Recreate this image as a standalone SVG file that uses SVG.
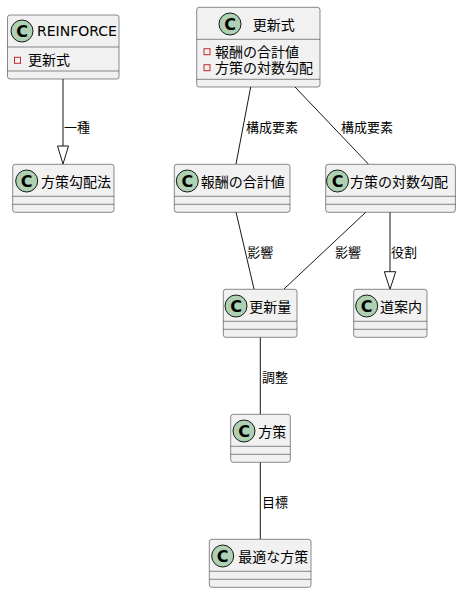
<svg xmlns="http://www.w3.org/2000/svg" width="461" height="593" viewBox="0 0 461 593">
<style>
.box{fill:#F1F1F1;stroke:#181818;stroke-width:0.5}
.sep{stroke:#181818;stroke-width:0.5}
.ci{fill:#ADD1B2;stroke:#181818;stroke-width:1}
.cl{font-family:"DejaVu Sans",sans-serif;font-weight:bold;font-size:16px;text-anchor:middle;fill:#000}
.nm{font-family:"DejaVu Sans","Noto Sans CJK JP",sans-serif;font-size:14px;fill:#000}
.lb{font-family:"DejaVu Sans","Noto Sans CJK JP",sans-serif;font-size:13px;fill:#000}
.ic{fill:none;stroke:#C82930;stroke-width:1}
.edge{stroke:#181818;stroke-width:1;fill:none}
.tri{fill:none;stroke:#181818;stroke-width:1}
</style>
<rect width="461" height="593" fill="#FFFFFF"/>
<g id="edges">
  <line class="edge" x1="63" y1="79" x2="63" y2="146"/>
  <polygon class="tri" points="63,164 57.5,146 68.5,146"/>
  <text class="lb" x="64" y="131.5">一種</text>
  <line class="edge" x1="250.7" y1="87" x2="236" y2="164"/>
  <text class="lb" x="246" y="131.5">構成要素</text>
  <line class="edge" x1="295" y1="87" x2="368.3" y2="164"/>
  <text class="lb" x="341" y="131.5">構成要素</text>
  <line class="edge" x1="236" y1="212" x2="254" y2="289"/>
  <text class="lb" x="247.3" y="256.5">影響</text>
  <line class="edge" x1="366" y1="212" x2="284" y2="289"/>
  <text class="lb" x="335" y="256.5">影響</text>
  <line class="edge" x1="390" y1="212" x2="390" y2="271.7"/>
  <polygon class="tri" points="390,289.3 384.3,271.7 395.7,271.7"/>
  <text class="lb" x="391" y="256.5">役割</text>
  <line class="edge" x1="260.3" y1="337.3" x2="260.3" y2="414.3"/>
  <text class="lb" x="262" y="381.5">調整</text>
  <line class="edge" x1="260.3" y1="462.3" x2="260.3" y2="539.3"/>
  <text class="lb" x="262" y="506.5">目標</text>
</g>
<g id="REINFORCE">
  <rect class="box" x="7.5" y="15" width="111.5" height="64" rx="2.5"/>
  <line class="sep" x1="7.5" y1="47" x2="119" y2="47"/>
  <line class="sep" x1="7.5" y1="71" x2="119" y2="71"/>
  <circle class="ci" cx="22" cy="31" r="11"/>
  <text class="cl" x="22" y="37">C</text>
  <text class="nm" x="37" y="36">REINFORCE</text>
  <rect class="ic" x="14.5" y="57.3" width="6" height="6"/>
  <text class="nm" x="28" y="65">更新式</text>
</g>
<g id="koushinshiki">
  <rect class="box" x="196.7" y="7.3" width="123.3" height="79.7" rx="2.5"/>
  <line class="sep" x1="196.7" y1="39.3" x2="320" y2="39.3"/>
  <line class="sep" x1="196.7" y1="79.3" x2="320" y2="79.3"/>
  <circle class="ci" cx="230" cy="24" r="11"/>
  <text class="cl" x="230" y="30">C</text>
  <text class="nm" x="252.7" y="29.5">更新式</text>
  <rect class="ic" x="204" y="48.7" width="6" height="6"/>
  <text class="nm" x="215" y="56.5">報酬の合計値</text>
  <rect class="ic" x="204" y="64.7" width="6" height="6"/>
  <text class="nm" x="215" y="72.5">方策の対数勾配</text>
</g>
<g id="housakukoubaihou">
  <rect class="box" x="12.7" y="164.3" width="101.3" height="48" rx="2.5"/>
  <line class="sep" x1="12.7" y1="196.3" x2="114" y2="196.3"/>
  <line class="sep" x1="12.7" y1="204.3" x2="114" y2="204.3"/>
  <circle class="ci" cx="26.7" cy="181" r="11"/>
  <text class="cl" x="26.7" y="187">C</text>
  <text class="nm" x="41" y="187">方策勾配法</text>
</g>
<g id="houshuu">
  <rect class="box" x="174.3" y="164.3" width="115.7" height="48" rx="2.5"/>
  <line class="sep" x1="174.3" y1="196.3" x2="290" y2="196.3"/>
  <line class="sep" x1="174.3" y1="204.3" x2="290" y2="204.3"/>
  <circle class="ci" cx="187.3" cy="181" r="11"/>
  <text class="cl" x="187.3" y="187">C</text>
  <text class="nm" x="200.7" y="187">報酬の合計値</text>
</g>
<g id="taisuukoubai">
  <rect class="box" x="325.7" y="164.3" width="129.7" height="48" rx="2.5"/>
  <line class="sep" x1="325.7" y1="196.3" x2="455.4" y2="196.3"/>
  <line class="sep" x1="325.7" y1="204.3" x2="455.4" y2="204.3"/>
  <circle class="ci" cx="337.5" cy="181" r="11"/>
  <text class="cl" x="337.5" y="187">C</text>
  <text class="nm" x="350" y="187">方策の対数勾配</text>
</g>
<g id="koushinryou">
  <rect class="box" x="223.3" y="289.3" width="73.7" height="48" rx="2.5"/>
  <line class="sep" x1="223.3" y1="321.3" x2="297" y2="321.3"/>
  <line class="sep" x1="223.3" y1="329.3" x2="297" y2="329.3"/>
  <circle class="ci" cx="236" cy="306" r="11"/>
  <text class="cl" x="236" y="312">C</text>
  <text class="nm" x="249.3" y="312">更新量</text>
</g>
<g id="michiannai">
  <rect class="box" x="353.7" y="289.3" width="73.3" height="48" rx="2.5"/>
  <line class="sep" x1="353.7" y1="321.3" x2="427" y2="321.3"/>
  <line class="sep" x1="353.7" y1="329.3" x2="427" y2="329.3"/>
  <circle class="ci" cx="366.7" cy="306" r="11"/>
  <text class="cl" x="366.7" y="312">C</text>
  <text class="nm" x="380" y="312">道案内</text>
</g>
<g id="housaku">
  <rect class="box" x="230.7" y="414.3" width="59.6" height="48" rx="2.5"/>
  <line class="sep" x1="230.7" y1="446.3" x2="290.3" y2="446.3"/>
  <line class="sep" x1="230.7" y1="454.3" x2="290.3" y2="454.3"/>
  <circle class="ci" cx="244" cy="431" r="11"/>
  <text class="cl" x="244" y="437">C</text>
  <text class="nm" x="258.3" y="437">方策</text>
</g>
<g id="saiteki">
  <rect class="box" x="209.3" y="539.3" width="101.7" height="48" rx="2.5"/>
  <line class="sep" x1="209.3" y1="571.3" x2="311" y2="571.3"/>
  <line class="sep" x1="209.3" y1="579.3" x2="311" y2="579.3"/>
  <circle class="ci" cx="222.7" cy="556" r="11"/>
  <text class="cl" x="222.7" y="562">C</text>
  <text class="nm" x="238.3" y="562">最適な方策</text>
</g>
</svg>
